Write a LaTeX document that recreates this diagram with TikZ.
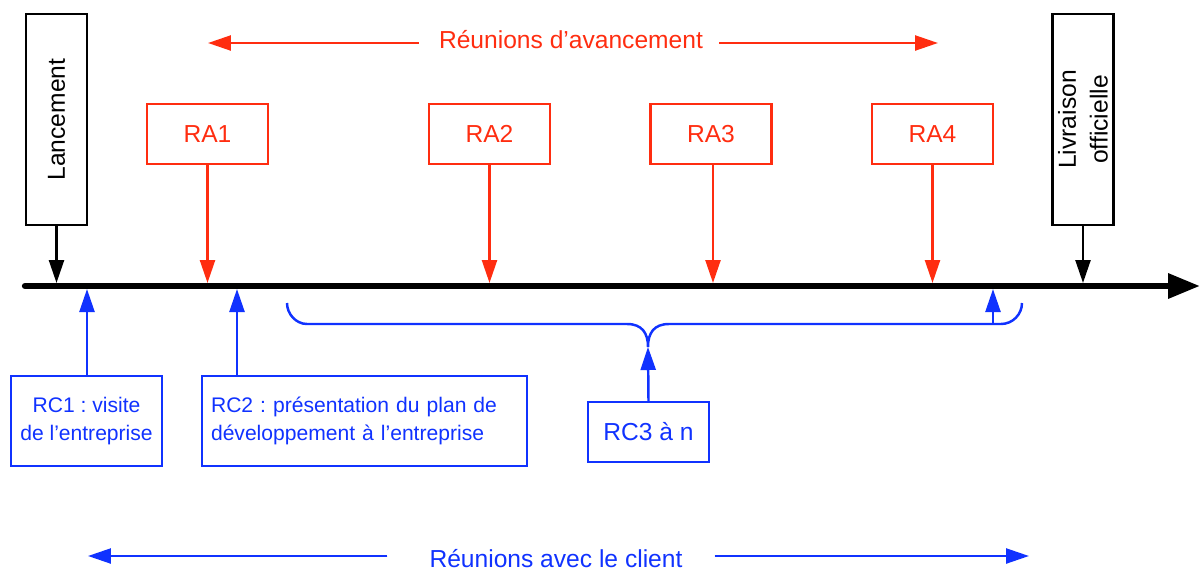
\documentclass[tikz,border=0pt]{standalone}
\usepackage{fontspec}
\setmainfont{Liberation Sans}
\usetikzlibrary{arrows.meta}
\definecolor{rred}{RGB}{255,45,16}
\definecolor{rblue}{RGB}{16,50,255}
\frenchspacing
\begin{document}
\begin{tikzpicture}[x=0.02cm,y=-0.02cm,
  box/.style={draw,line width=1.4pt,inner sep=0pt},
  bigtxt/.style={font=\fontsize{14}{18}\selectfont},
  smalltxt/.style={font=\fontsize{12}{16}\selectfont},
  tip/.style={-{Triangle[length=0.46cm,width=0.3cm]}},
  conn/.style={line width=1.4pt,tip},
  blackbox/.style={box,draw=black,minimum width=4.22cm,minimum height=1.22cm,rotate=90,bigtxt,align=center},
  redbox/.style={box,draw=rred,text=rred,minimum width=2.42cm,minimum height=1.2cm,bigtxt},
  bluebox/.style={box,draw=rblue,text=rblue,minimum height=1.8cm,smalltxt},
  redarrow/.style={conn,draw=rred,fill=rred},
  bluearrow/.style={conn,draw=rblue,fill=rblue},
  blackarrow/.style={conn,draw=black}
]
\useasboundingbox (0,0) rectangle (1201,572);

% timeline
\coordinate (tl0) at (25,286);
\coordinate (tl1) at (1200,286);
\coordinate (tltop) at (0,283);
\coordinate (tlbot) at (0,289);
\draw[line width=3.6pt,line cap=round,-{Triangle[length=0.64cm,width=0.48cm]}] (tl0) -- (tl1);

% black milestones
\node[blackbox] (lan) at (56.5,119.5) {Lancement};
\node[blackbox] (liv) at (1083,119.5) {Livraison\\officielle};
\draw[blackarrow] (lan.west) -- (lan.west |- tltop);
\draw[blackarrow] (liv.west) -- (liv.west |- tltop);

% red meetings
\node[bigtxt,text=rred] (ra) at (571,40) {Réunions d’avancement};
\coordinate (raL) at (208,43);
\coordinate (raR) at (938,43);
\draw[redarrow] (ra.west |- raL) ++(-14,0) -- (raL);
\draw[redarrow] (ra.east |- raR) ++(10,0) -- (raR);

\node[redbox] (ra1) at (207.5,134) {RA1};
\node[redbox] (ra2) at (489.5,134) {RA2};
\node[redbox] (ra3) at (711,134) {RA3};
\node[redbox] (ra4) at (932.5,134) {RA4};
\draw[redarrow] (ra1.south) -- (ra1.south |- tltop);
\draw[redarrow] (ra2.south) -- (ra2.south |- tltop);
\coordinate (ra3s) at (713,164);
\draw[redarrow] (ra3s) -- (ra3s |- tltop);
\draw[redarrow] (ra4.south) -- (ra4.south |- tltop);

% blue client meetings
\node[bluebox,minimum width=3.02cm,align=center] (rc1) at (86.5,421) {RC1 : visite\\de l’entreprise};
\node[bluebox,minimum width=6.5cm,text width=6.14cm,align=left] (rc2) at (364.5,421) {RC2 : présentation du plan de\\développement à l’entreprise};
\node[bluebox,minimum width=2.42cm,minimum height=1.2cm,bigtxt] (rc3) at (648.5,432) {RC3 à n};

\coordinate (rc1n) at (87,376);
\coordinate (rc2n) at (237,376);
\draw[bluearrow] (rc1n) -- (rc1n |- tlbot);
\draw[bluearrow] (rc2n) -- (rc2n |- tlbot);

% brace
\coordinate (brtip) at (648,347);
\draw[rblue,line width=1.4pt] (287,303) .. controls (287,314) and (296,324) .. (307,324) -- (627,324)
  .. controls (642,324) and (648,333) .. (brtip)
  .. controls (648,333) and (654,324) .. (669,324) -- (1001,324)
  .. controls (1013,324) and (1022,314) .. (1022,303);
\coordinate (brin) at (993,324);
\draw[bluearrow] (brin) -- (brin |- tlbot);
\draw[bluearrow] (rc3.north) -- (brtip);

% bottom label
\node[bigtxt,text=rblue] (rc) at (556,559) {Réunions avec le client};
\coordinate (rcL) at (88,556);
\coordinate (rcR) at (1029,556);
\draw[bluearrow] (rc.west |- rcL) ++(-36,0) -- (rcL);
\draw[bluearrow] (rc.east |- rcR) ++(26,0) -- (rcR);
\end{tikzpicture}
\end{document}
